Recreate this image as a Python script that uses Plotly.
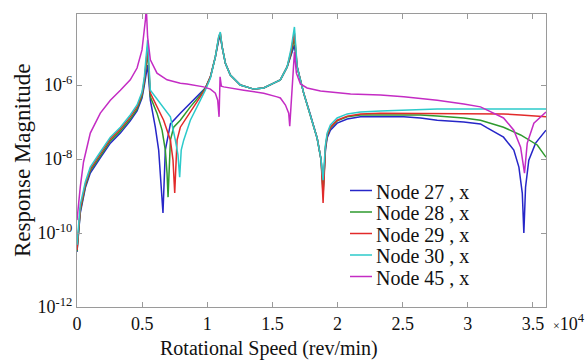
import numpy as np
import plotly.graph_objects as go

# ---- data (x in rev/min, y as log10 of response magnitude) ----
speed_27 = [0, 250, 640, 1020, 1790, 2560, 3330, 4090, 4610, 4990, 5170, 5320, 5420, 5630, 6010, 6270, 6450, 6600,
            6780, 7040, 7170, 7930, 8700, 9470, 9850, 10240, 10620, 10880, 11000, 11140, 11390, 11770, 12540, 13560,
            14330, 15100, 15610, 16130, 16440, 16690, 16900, 17400, 17920, 18430, 18740, 18890, 19070, 19200, 19450,
            19970, 20740, 21760, 23290, 25080, 26370, 27650, 29690, 30970, 31490, 32740, 33530, 33920, 34180, 34300,
            34430, 34680, 35200, 36000]
log_27 = [-10.51, -9.46, -8.78, -8.38, -7.97, -7.57, -7.30, -6.97, -6.70, -6.35, -6.00, -5.68, -5.46, -6.41, -7.14,
          -7.76, -8.65, -9.46, -7.76, -7.27, -7.05, -6.76, -6.49, -6.22, -6.08, -5.78, -5.24, -4.78, -4.68, -4.97,
          -5.41, -5.73, -6.00, -6.11, -6.08, -5.95, -5.86, -5.51, -5.19, -4.92, -5.51, -6.22, -6.81, -7.43, -8.03,
          -8.84, -7.76, -7.43, -7.22, -7.03, -6.92, -6.86, -6.86, -6.86, -6.89, -6.95, -7.00, -7.05, -7.16, -7.41,
          -7.76, -8.22, -8.92, -10.00, -8.76, -8.03, -7.57, -7.22]

speed_28 = [0, 250, 640, 1020, 1790, 2560, 3330, 4090, 4610, 4990, 5170, 5320, 5420, 5630, 6140, 6530, 6780, 6910,
            6990, 7170, 7420, 7930, 8700, 9470, 9850, 10240, 10620, 10880, 11000, 11140, 11390, 11770, 12540, 13560,
            14330, 15100, 15610, 16130, 16440, 16690, 16900, 17400, 17920, 18430, 18740, 18890, 19070, 19200, 19450,
            19970, 20740, 21760, 23290, 25080, 26370, 27650, 29690, 30970, 32740, 34050, 35330, 36000]
log_28 = [-10.49, -9.41, -8.73, -8.32, -7.92, -7.51, -7.24, -6.92, -6.65, -6.30, -5.92, -5.38, -5.11, -6.32, -6.76,
          -7.22, -7.76, -8.38, -9.03, -7.49, -7.14, -6.95, -6.59, -6.27, -6.08, -5.78, -5.24, -4.73, -4.62, -4.97,
          -5.41, -5.73, -6.00, -6.11, -6.08, -5.95, -5.86, -5.51, -5.14, -4.73, -5.51, -6.22, -6.81, -7.43, -8.03,
          -8.97, -7.70, -7.38, -7.16, -6.97, -6.86, -6.81, -6.81, -6.81, -6.81, -6.84, -6.89, -6.95, -7.14, -7.35,
          -7.62, -7.95]

speed_29 = [0, 250, 640, 1020, 1790, 2560, 3330, 4090, 4610, 4990, 5170, 5320, 5420, 5630, 6140, 6650, 7170, 7370,
            7500, 7680, 7930, 8700, 9470, 9850, 10240, 10620, 10880, 11000, 11140, 11390, 11770, 12540, 13560, 14330,
            15100, 15610, 16130, 16440, 16690, 16900, 17400, 17920, 18430, 18740, 18890, 19070, 19200, 19450, 19970,
            20740, 21760, 23290, 25080, 27650, 30970, 32740, 34050, 36000]
log_29 = [-10.46, -9.35, -8.68, -8.27, -7.86, -7.46, -7.19, -6.86, -6.59, -6.24, -5.86, -5.24, -4.97, -6.22, -6.59,
          -6.95, -7.49, -8.03, -8.92, -7.49, -7.14, -6.73, -6.32, -6.11, -5.78, -5.24, -4.70, -4.59, -4.97, -5.41,
          -5.73, -6.00, -6.11, -6.08, -5.95, -5.86, -5.51, -5.08, -4.59, -5.51, -6.22, -6.81, -7.43, -8.03, -9.19,
          -7.68, -7.35, -7.14, -6.95, -6.84, -6.78, -6.76, -6.76, -6.76, -6.76, -6.78, -6.81, -6.86]

speed_30 = [0, 250, 640, 1020, 1790, 2560, 3330, 4090, 4610, 4990, 5170, 5320, 5420, 5630, 6400, 7170, 7550, 7750,
            7880, 8000, 8190, 8700, 9470, 9850, 10240, 10620, 10880, 11000, 11140, 11390, 11770, 12540, 13560, 14330,
            15100, 15610, 16130, 16440, 16690, 16900, 17400, 17920, 18430, 18740, 18890, 19070, 19200, 19450, 19970,
            20740, 21760, 23290, 25080, 26370, 27650, 30970, 36000]
log_30 = [-10.32, -9.24, -8.62, -8.22, -7.81, -7.41, -7.14, -6.81, -6.54, -6.19, -5.78, -5.11, -4.78, -6.14, -6.49,
          -6.86, -7.49, -7.89, -8.49, -7.76, -7.49, -6.95, -6.41, -6.14, -5.81, -5.24, -4.68, -4.57, -4.97, -5.41,
          -5.73, -6.00, -6.11, -6.08, -5.95, -5.86, -5.51, -5.00, -4.43, -5.51, -6.22, -6.81, -7.43, -8.03, -8.57,
          -7.62, -7.30, -7.08, -6.89, -6.78, -6.73, -6.70, -6.68, -6.68, -6.65, -6.65, -6.65]

speed_45 = [0, 250, 500, 1020, 1790, 2560, 3330, 4090, 4610, 4990, 5250, 5320, 5420, 5630, 6140, 6910, 7930, 8450,
            9720, 10240, 10620, 10800, 10905, 10982, 11082, 11260, 12800, 14330, 15360, 15610, 16000, 16250, 16330,
            16435, 16590, 16690, 16840, 17150, 17660, 18690, 21000, 23290, 25080, 27650, 29690, 30970, 31490, 32740,
            33530, 34050, 34350, 34560, 35070, 36000]
log_45 = [-9.65, -8.76, -8.08, -7.30, -6.76, -6.41, -6.14, -5.86, -5.54, -5.05, -4.24, -3.92, -4.70, -5.32, -5.68,
          -5.86, -5.95, -5.97, -6.05, -6.11, -6.22, -6.41, -6.86, -5.78, -6.03, -6.05, -6.14, -6.22, -6.32, -6.35,
          -6.54, -6.76, -7.11, -6.51, -5.51, -5.11, -5.68, -5.97, -6.08, -6.16, -6.24, -6.27, -6.32, -6.41, -6.51,
          -6.59, -6.68, -6.89, -7.22, -7.68, -8.38, -7.57, -7.03, -6.73]

series_names = ["Node 27 , x", "Node 28 , x", "Node 29 , x", "Node 30 , x", "Node 45 , x"]
series_colors = ["#2626c8", "#2e9a2e", "#e22a2a", "#2ccaca", "#c42cc4"]

x_tick_vals = [0, 5000, 10000, 15000, 20000, 25000, 30000, 35000]
x_tick_text = ["0", "0.5", "1", "1.5", "2", "2.5", "3", "3.5"]
y_tick_vals = [1e-12, 1e-10, 1e-8, 1e-6]
y_tick_text = ["10<sup>-12</sup>", "10<sup>-10</sup>", "10<sup>-8</sup>", "10<sup>-6</sup>"]

FONT = "Liberation Serif, Times New Roman, serif"

# plot-area geometry in pixels (for placing the hand-made legend and titles)
L, R, T, B = 77, 546, 14, 307
def px(xp):
    return (xp - L) / (R - L)
def py(yp):
    return (B - yp) / (B - T)

fig = go.Figure()
all_x = [speed_27, speed_28, speed_29, speed_30, speed_45]
all_y = [log_27, log_28, log_29, log_30, log_45]
for xs, ls, name, col in zip(all_x, all_y, series_names, series_colors):
    fig.add_trace(go.Scatter(x=xs, y=10 ** np.array(ls), mode="lines", name=name,
                             line=dict(color=col, width=1.5), showlegend=False))

axis_common = dict(showline=True, linecolor="#9a9a9a", linewidth=1, mirror="ticks", ticks="inside",
                   ticklen=5, tickcolor="#9a9a9a", showgrid=False, zeroline=False,
                   tickfont=dict(family=FONT, size=18, color="#111111"))

fig.update_layout(
    width=588, height=360,
    margin=dict(l=L, r=588 - R, t=T, b=360 - B),
    paper_bgcolor="white", plot_bgcolor="white",
    font=dict(family=FONT, color="#111111"),
    xaxis=dict(range=[0, 36000], tickmode="array", tickvals=x_tick_vals, ticktext=x_tick_text, **axis_common),
    yaxis=dict(type="log", range=[-12, -4.08], tickmode="array", tickvals=y_tick_vals, ticktext=y_tick_text,
               **axis_common),
    showlegend=False,
)

# legend (line samples + labels)
legend_rows = [190.5, 212, 233.5, 255, 276.5]
for row, name, col in zip(legend_rows, series_names, series_colors):
    fig.add_shape(type="line", xref="paper", yref="paper", x0=px(350), x1=px(372), y0=py(row), y1=py(row),
                  line=dict(color=col, width=1.5))
    fig.add_annotation(text=name, xref="paper", yref="paper", x=px(374), y=py(row + 1), xanchor="left",
                       yanchor="middle", showarrow=False, font=dict(family=FONT, size=20, color="#111111"))

fig.add_annotation(text="Rotational Speed (rev/min)", xref="paper", yref="paper",
                   x=px(269), y=py(348), xanchor="center", yanchor="middle",
                   showarrow=False, font=dict(family=FONT, size=20, color="#111111"))
fig.add_annotation(text="Response Magnitude", xref="paper", yref="paper",
                   x=px(22), y=py(160), xanchor="center", yanchor="middle",
                   textangle=-90, showarrow=False, font=dict(family=FONT, size=23, color="#111111"))
fig.add_annotation(text="<span style='font-size:12px'>×</span>10<sup>4</sup>", xref="paper", yref="paper",
                   x=px(551), y=py(322), xanchor="left", yanchor="middle",
                   showarrow=False, font=dict(family=FONT, size=18, color="#111111"))

fig.write_html("out.html", config={"displayModeBar": False},
               post_script="document.body.style.margin='0px';document.body.style.overflow='hidden';")
